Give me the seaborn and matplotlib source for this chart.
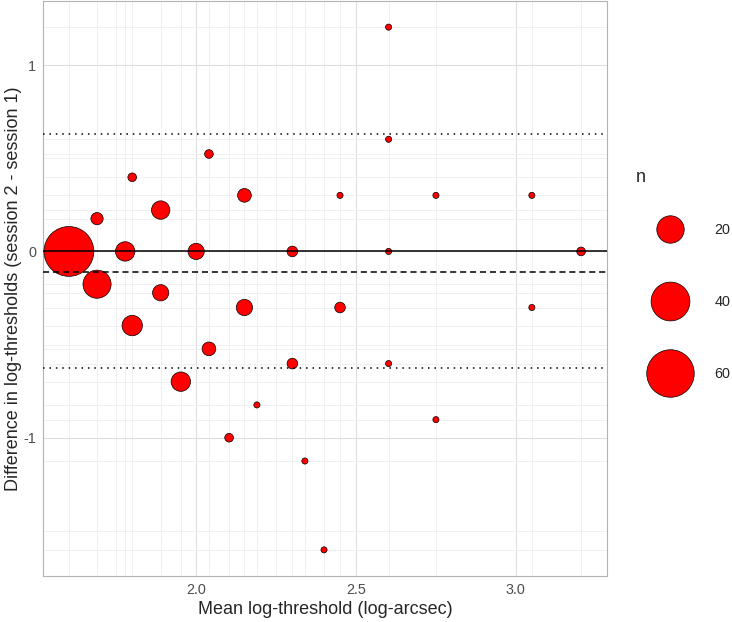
import numpy as np
import pandas as pd
import seaborn as sns
import matplotlib.pyplot as plt
from matplotlib.lines import Line2D

# mean log-threshold, difference (session 2 - session 1), count
mean_x = [1.602, 1.690, 1.690, 1.778, 1.800, 1.800, 1.889, 1.889, 1.952, 2.000,
          2.040, 2.040, 2.151, 2.151, 2.190, 2.103, 2.301, 2.301, 2.340, 2.750,
          2.400, 2.602, 2.602, 2.450, 2.750, 3.050, 2.602, 3.204, 2.450, 3.050,
          2.602]
diff_y = [0.000, 0.176, -0.176, 0.000, 0.398, -0.398, 0.222, -0.222, -0.699, 0.000,
          0.523, -0.523, 0.301, -0.301, -0.824, -1.000, 0.000, -0.602, -1.125, -0.903,
          -1.602, 1.204, 0.602, 0.301, 0.301, 0.301, 0.000, 0.000, -0.301, -0.301,
          -0.602]
n_count = [66, 4, 21, 10, 2, 11, 9, 7, 10, 7,
           2, 5, 5, 7, 1, 2, 3, 3, 1, 1,
           1, 1, 1, 1, 1, 1, 1, 2, 3, 1,
           1]

bias = -0.112
loa_upper = 0.630
loa_lower = -0.625

legend_n = [20, 40, 60]
x_breaks = [2.0, 2.5, 3.0]
y_breaks = [-1, 0, 1]

df = pd.DataFrame({"mean": mean_x, "diff": diff_y, "n": n_count})

sns.set_style("white")
plt.rcParams["font.family"] = ["Liberation Sans", "DejaVu Sans"]
plt.rcParams["axes.unicode_minus"] = False

# marker area proportional to n
n_top = 70
area_per_n = 19.5

fig = plt.figure(figsize=(7.32, 6.22), dpi=100)
ax = fig.add_axes([43.3 / 732, 1 - 576 / 622, (606.7 - 43.3) / 732, (575 - 0) / 622])

sns.scatterplot(data=df, x="mean", y="diff", size="n",
                sizes=(0, area_per_n * n_top), size_norm=(0, n_top),
                color="#FF0000", edgecolor="black", linewidth=0.5,
                alpha=1, legend=False, ax=ax, zorder=3)

ax.axhline(0, color="black", lw=1.1, zorder=4)
ax.axhline(bias, color="black", lw=1.1, ls=(0, (4, 2.5)), zorder=4)
ax.axhline(loa_upper, color="black", lw=1.1, ls=(0, (1, 3.2)), zorder=4)
ax.axhline(loa_lower, color="black", lw=1.1, ls=(0, (1, 3.2)), zorder=4)

# limits with 5% expansion like ggplot
xr = max(mean_x) - min(mean_x)
yr = max(diff_y) - min(diff_y)
ax.set_xlim(min(mean_x) - 0.05 * xr, max(mean_x) + 0.05 * xr)
ax.set_ylim(min(diff_y) - 0.05 * yr, max(diff_y) + 0.05 * yr)

ax.set_xticks(x_breaks)
ax.set_xticklabels(["2.0", "2.5", "3.0"])
ax.set_yticks(y_breaks)
ax.set_yticklabels(["-1", "0", "1"])
ax.set_xticks(sorted(set(mean_x) | {1.75, 2.25}), minor=True)
ax.set_yticks(sorted(set(diff_y) | {-1.5, -0.5, 0.5}), minor=True)

ax.grid(which="major", color="#DEDEDE", lw=0.8, zorder=0)
ax.grid(which="minor", color="#EEEEEE", lw=0.6, zorder=0)
ax.set_axisbelow(True)

ax.tick_params(which="major", length=3, width=0.6, color="#B3B3B3",
               labelsize=10.4, labelcolor="#4D4D4D", pad=2)
ax.tick_params(which="minor", length=0)
for sp in ax.spines.values():
    sp.set_color("#B3B3B3")
    sp.set_linewidth(0.8)

ax.set_xlabel("Mean log-threshold (log-arcsec)", fontsize=13, labelpad=3)
ax.set_ylabel("Difference in log-thresholds (session 2 - session 1)", fontsize=13, labelpad=1)

# size legend
fig.text(636 / 732, 1 - 178 / 622, "n", fontsize=13, va="center", ha="left")
handles = [Line2D([], [], marker="o", linestyle="", markersize=np.sqrt(area_per_n * v),
                  markerfacecolor="#FF0000", markeredgecolor="black", markeredgewidth=0.5)
           for v in legend_n]
leg = fig.legend(handles, [str(v) for v in legend_n],
                 loc="upper left", bbox_to_anchor=(637 / 732, 1 - 216 / 622),
                 frameon=False, fontsize=10.4,
                 borderpad=0, handlelength=3.6, handletextpad=1.25,
                 labelspacing=4.0)

fig.savefig("out.png", dpi=100)
